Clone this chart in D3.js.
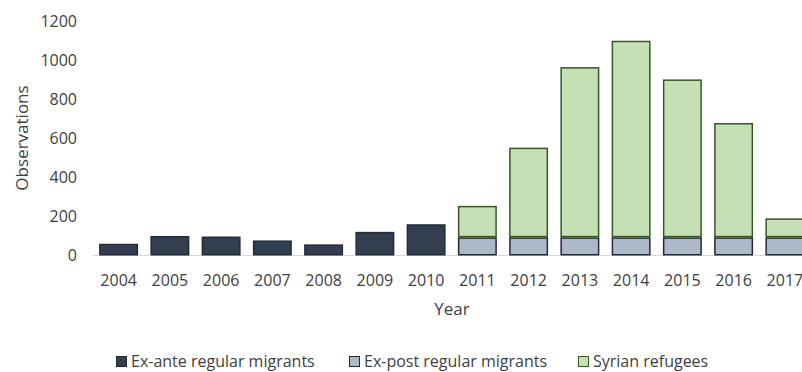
<!DOCTYPE html>
<html>
<head>
<meta charset="utf-8">
<script src="https://cdn.jsdelivr.net/npm/d3@7"></script>
<style>
  html, body { margin: 0; padding: 0; background: #fff; }
  svg { display: block; font-family: "Open Sans", sans-serif; }
</style>
</head>
<body>
<svg id="chart" width="802" height="372"></svg>
<script>
// Observations per survey year, split by migrant group
const years = ["2004","2005","2006","2007","2008","2009","2010","2011","2012","2013","2014","2015","2016","2017"];
const exAnte = [60, 100, 97, 77, 57, 121, 160, 0, 0, 0, 0, 0, 0, 0];
const exPost = [0, 0, 0, 0, 0, 0, 0, 93, 93, 93, 93, 93, 93, 93];
const syrian = [0, 0, 0, 0, 0, 0, 0, 161, 459, 871, 1006, 808, 585, 97];
const yTicks = [0, 200, 400, 600, 800, 1000, 1200];
const seriesNames = ["Ex-ante regular migrants", "Ex-post regular migrants", "Syrian refugees"];

const fills   = ["#333f50", "#adb9ca", "#c5e0b4"];
const strokes = ["#222a35", "#222a35", "#385723"];

const svg = d3.select("#chart");
const textColor = "#404040";

const x = d3.scaleBand()
  .domain(years)
  .range([93, 93 + 14 * 51.25])
  .paddingInner(0.24)
  .paddingOuter(0.12);

const y = d3.scaleLinear().domain([0, 1200]).range([255.5, 21]);

// stacked data
const rows = years.map((yr, i) => ({ year: yr, a: exAnte[i], b: exPost[i], c: syrian[i] }));
const stack = d3.stack().keys(["a", "b", "c"])(rows);

// baseline
svg.append("line")
  .attr("x1", 93).attr("x2", 802)
  .attr("y1", y(0)).attr("y2", y(0))
  .attr("stroke", "#d9d9d9").attr("stroke-width", 1);

// bars
stack.forEach((layer, li) => {
  svg.append("g")
    .selectAll("rect")
    .data(layer.filter(d => d[1] - d[0] > 0))
    .join("rect")
    .attr("x", d => x(d.data.year) + 0.75)
    .attr("width", x.bandwidth() - 1.5)
    .attr("y", d => y(d[1]) + 0.75)
    .attr("height", d => y(d[0]) - y(d[1]) - 1.5)
    .attr("fill", fills[li])
    .attr("stroke", strokes[li])
    .attr("stroke-width", 1.5);
});

// y axis labels (no axis line)
const yAxis = d3.axisLeft(y).tickValues(yTicks).tickFormat(d3.format("d")).tickSize(0).tickPadding(0);
const gy = svg.append("g").attr("transform", "translate(77,0)").call(yAxis);
gy.select(".domain").remove();
gy.selectAll("text")
  .attr("font-family", "Open Sans, sans-serif")
  .attr("font-size", 16)
  .attr("fill", textColor);

// x axis labels
const xAxis = d3.axisBottom(x).tickSize(0).tickPadding(0);
const gx = svg.append("g").attr("transform", "translate(0,275)").call(xAxis);
gx.select(".domain").remove();
gx.selectAll("text")
  .attr("font-family", "Open Sans, sans-serif")
  .attr("font-size", 16)
  .attr("fill", textColor);

// axis titles
svg.append("text")
  .attr("x", 452).attr("y", 315)
  .attr("text-anchor", "middle")
  .attr("font-size", 17)
  .attr("fill", textColor)
  .text("Year");

svg.append("text")
  .attr("transform", "translate(28,138) rotate(-90)")
  .attr("text-anchor", "middle")
  .attr("font-size", 17)
  .attr("fill", textColor)
  .text("Observations");

// legend
const legendX = [116, 349, 578];
const legend = svg.append("g");
seriesNames.forEach((name, i) => {
  legend.append("rect")
    .attr("x", legendX[i] + 0.5).attr("y", 356.5)
    .attr("width", 10).attr("height", 10)
    .attr("fill", fills[i]).attr("stroke", strokes[i]).attr("stroke-width", 1);
  legend.append("text")
    .attr("x", legendX[i] + 15).attr("y", 367)
    .attr("font-size", 16)
    .attr("fill", textColor)
    .text(name);
});
</script>
</body>
</html>
